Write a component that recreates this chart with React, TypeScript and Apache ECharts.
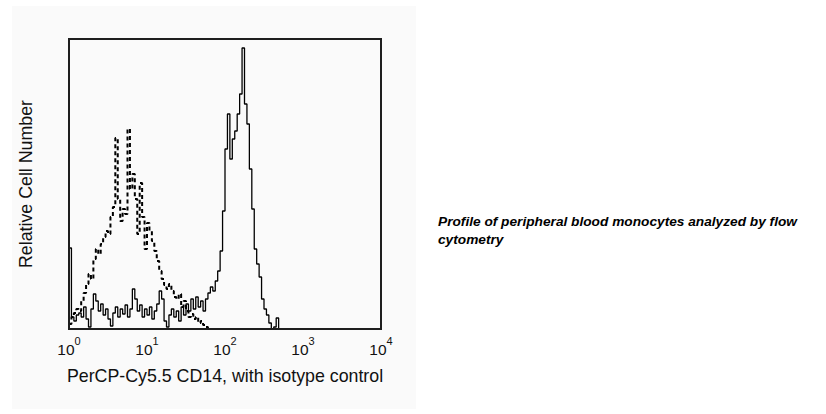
import React, { useEffect, useRef } from "react";
import * as echarts from "echarts";

// Histogram bins: 32 channels per decade on the log fluorescence axis
const binsPerDecade = 32;

// PerCP-Cy5.5 CD14 stained (solid line), relative counts per channel
const cd14Counts = [
  81, 12, 8, 14, 16, 12, 22, 10, 2, 20, 35, 28, 18, 25, 14, 20, 10, 3, 16, 22,
  12, 20, 15, 24, 12, 20, 40, 30, 18, 24, 12, 20, 14, 22, 10, 18, 25, 38, 30, 8,
  2, 14, 20, 12, 18, 8, 22, 14, 25, 18, 30, 20, 32, 22, 28, 18, 30, 36, 42, 38,
  48, 58, 78, 118, 180, 215, 170, 190, 198, 215, 235, 281, 225, 205, 160, 120,
  80, 65, 52, 30, 20, 14, 6, 0, 2, 11, 0,
];

// Isotype control (dashed line), relative counts per channel
const isotypeCounts = [
  5, 12, 16, 20, 18, 28, 36, 45, 55, 50, 70, 80, 75, 85, 92, 98, 95, 112, 122,
  191, 130, 108, 120, 115, 200, 140, 155, 130, 95, 146, 112, 80, 106, 98, 88, 78,
  68, 58, 50, 44, 40, 45, 38, 32, 30, 35, 22, 28, 18, 12, 15, 10, 12, 6, 8, 4, 2,
  0,
];

const xMin = 1;
const xMax = 10000;
const yMax = 290;

const xAxisTitle = "PerCP-Cy5.5 CD14, with isotype control";
const yAxisTitle = "Relative Cell Number";
const caption = "Profile of peripheral blood monocytes analyzed by flow\ncytometry";

const toPairs = (counts: number[]) => {
  const pts = counts.map((c, i) => [Math.pow(10, i / binsPerDecade), c]);
  pts.push([Math.pow(10, counts.length / binsPerDecade), 0]);
  return pts;
};

export default function App() {
  const ref = useRef<HTMLDivElement>(null);
  useEffect(() => {
    if (!ref.current) return;
    const chart = echarts.init(ref.current, null, { renderer: "svg" });
    const font = "'Liberation Sans', Arial, sans-serif";
    chart.setOption({
      animation: false,
      backgroundColor: "#ffffff",
      textStyle: { fontFamily: font },
      graphic: [
        {
          type: "rect",
          z: -10,
          shape: { x: 12, y: 6, width: 404, height: 403 },
          style: { fill: "#fafafa" },
          silent: true,
        },
        {
          type: "text",
          x: 438,
          y: 212,
          style: {
            text: caption,
            font: `italic bold 13.7px ${font}`,
            fill: "#000",
            lineHeight: 18,
          },
        },
      ],
      grid: {
        left: 69,
        right: 445,
        top: 39,
        bottom: 85,
        show: true,
        borderColor: "#1e1e1e",
        borderWidth: 2,
        backgroundColor: "transparent",
        z: 5,
      },
      xAxis: {
        type: "log",
        logBase: 10,
        min: xMin,
        max: xMax,
        axisLine: { show: false },
        axisTick: { show: false },
        splitLine: { show: false },
        axisLabel: {
          margin: 6,
          fontSize: 15,
          color: "#111",
          formatter: (v: number) => `{b|10}{s|${Math.round(Math.log10(v))}}`,
          rich: {
            b: { fontSize: 15.5, color: "#111", fontFamily: font, lineHeight: 22, verticalAlign: "bottom" },
            s: { fontSize: 11, color: "#111", fontFamily: font, lineHeight: 22, verticalAlign: "top" },
          },
        },
        name: xAxisTitle,
        nameLocation: "middle",
        nameGap: 38,
        nameTextStyle: { fontSize: 17.8, color: "#111", fontFamily: font },
      },
      yAxis: {
        type: "value",
        min: 0,
        max: yMax,
        axisLine: { show: false },
        axisTick: { show: false },
        axisLabel: { show: false },
        splitLine: { show: false },
        name: yAxisTitle,
        nameLocation: "middle",
        nameGap: 34,
        nameTextStyle: { fontSize: 17.8, color: "#111", fontFamily: font },
      },
      series: [
        {
          name: "Isotype control",
          type: "line",
          step: "end",
          showSymbol: false,
          data: toPairs(isotypeCounts),
          lineStyle: { color: "#000", width: 2, type: [4, 3] },
        },
        {
          name: "PerCP-Cy5.5 CD14",
          type: "line",
          step: "end",
          showSymbol: false,
          data: toPairs(cd14Counts),
          lineStyle: { color: "#000", width: 1.3 },
        },
      ],
    });
    return () => chart.dispose();
  }, []);
  return (
    <div
      ref={ref}
      style={{ position: "fixed", left: 0, top: 0, width: 826, height: 414 }}
    />
  );
}
